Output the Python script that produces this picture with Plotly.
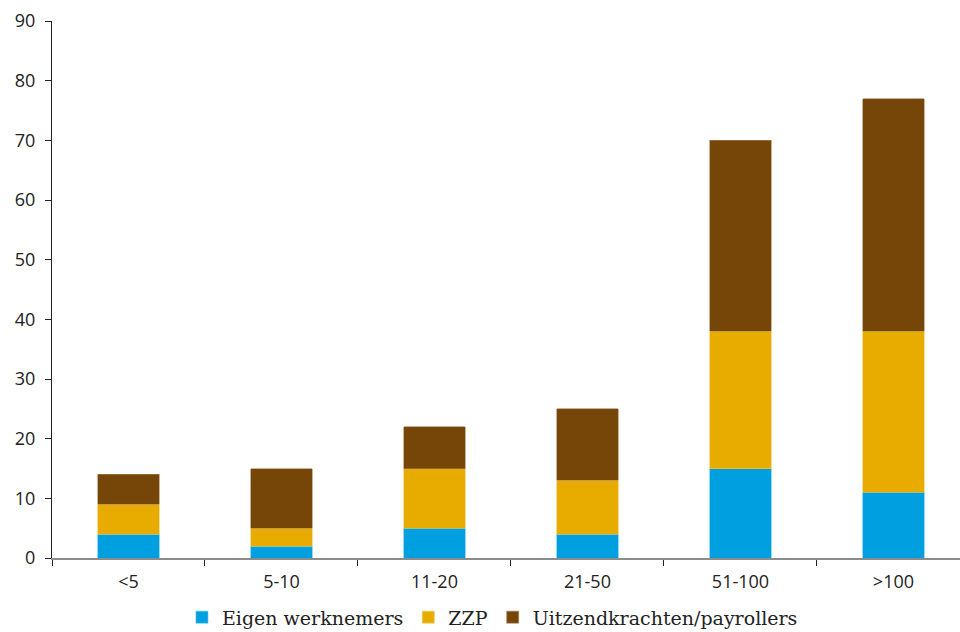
import plotly.graph_objects as go

# Size classes and headcounts per category of staff
categories = ["<5", "5-10", "11-20", "21-50", "51-100", ">100"]
eigen_werknemers = [4, 2, 5, 4, 15, 11]
zzp = [5, 3, 10, 9, 23, 27]
uitzendkrachten = [5, 10, 7, 12, 32, 39]

series = [
    ("Eigen werknemers", eigen_werknemers, "#009FE0", "#4FC3F0"),
    ("ZZP", zzp, "#E8AC00", "#F2C84F"),
    ("Uitzendkrachten/payrollers", uitzendkrachten, "#754608", "#A88356"),
]

fig = go.Figure()
for name, values, color, edge in series:
    fig.add_trace(go.Bar(
        x=categories, y=values, name=name,
        marker=dict(color=color, line=dict(color=edge, width=0.6)),
        width=0.4,
    ))

tick_font = dict(family="Open Sans, Noto Sans, sans-serif", size=18, color="#222222")

fig.update_layout(
    barmode="stack",
    width=960, height=632,
    margin=dict(l=52, r=0, t=21, b=74, autoexpand=False),
    plot_bgcolor="white", paper_bgcolor="white",
    showlegend=True,
    legend=dict(
        orientation="h", xref="container", yref="paper",
        x=0.513, xanchor="center", y=-0.075, yanchor="top",
        font=dict(family="DejaVu Serif, serif", size=19, color="#222222"),
        itemwidth=30, traceorder="normal",
    ),
    xaxis=dict(
        range=[-0.5, 5.435], showgrid=False,
        showline=True, linecolor="#8C8C8C", linewidth=2,
        ticks="outside", tickson="boundaries", ticklen=6, tickcolor="#222222",
        tickfont=tick_font, ticklabelstandoff=6,
    ),
    yaxis=dict(
        range=[0, 90], dtick=10, showgrid=False, zeroline=False,
        showline=True, linecolor="#222222", linewidth=1,
        ticks="outside", ticklen=6, tickcolor="#222222",
        tickfont=tick_font, ticklabelstandoff=6,
    ),
)

fig.write_html("out.html")
